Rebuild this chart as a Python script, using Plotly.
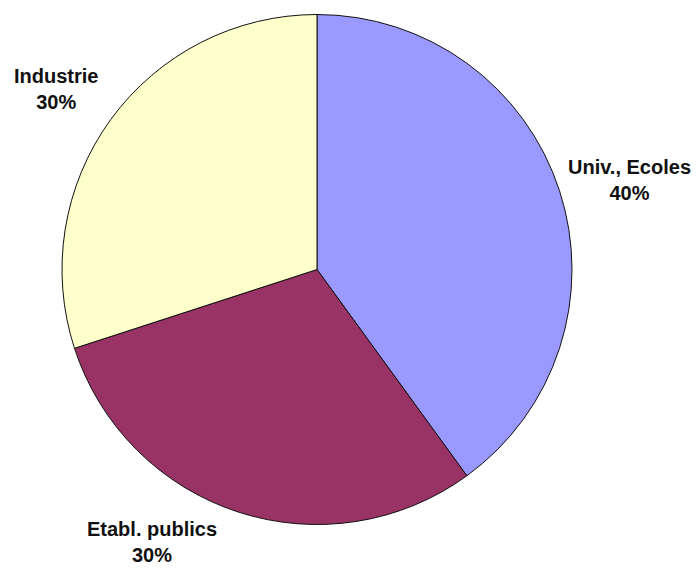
import plotly.graph_objects as go

labels = ["Univ., Ecoles", "Etabl. publics", "Industrie"]
values = [40, 30, 30]
colors = ["#9999FF", "#993366", "#FFFFCC"]

W, H = 698, 569
# label anchor positions in pixels (text placement only)
label_px = [(629, 180), (152, 542), (56, 89)]

fig = go.Figure(go.Pie(
    labels=labels,
    values=values,
    sort=False,
    direction="clockwise",
    rotation=0,
    marker=dict(colors=colors, line=dict(color="#111111", width=1)),
    textinfo="none",
    hoverinfo="label+percent",
    domain=dict(x=[62 / W, 572 / W], y=[1 - 525 / H, 1 - 14 / H]),
    showlegend=False,
))

total = sum(values)
annotations = []
for lab, val, (px, py) in zip(labels, values, label_px):
    annotations.append(dict(
        x=px / W, y=1 - py / H, xref="paper", yref="paper",
        xanchor="center", yanchor="middle", showarrow=False, align="center",
        text=f"<b>{lab}<br>{round(100 * val / total)}%</b>",
        font=dict(family="Liberation Sans, Arial, sans-serif", size=20, color="#111111"),
    ))

fig.update_layout(
    width=W, height=H,
    margin=dict(l=0, r=0, t=0, b=0),
    paper_bgcolor="white", plot_bgcolor="white",
    annotations=annotations,
)

fig.write_html(
    "out.html",
    config={"displayModeBar": False},
    post_script="document.body.style.margin='0';document.body.style.overflow='hidden';",
)
